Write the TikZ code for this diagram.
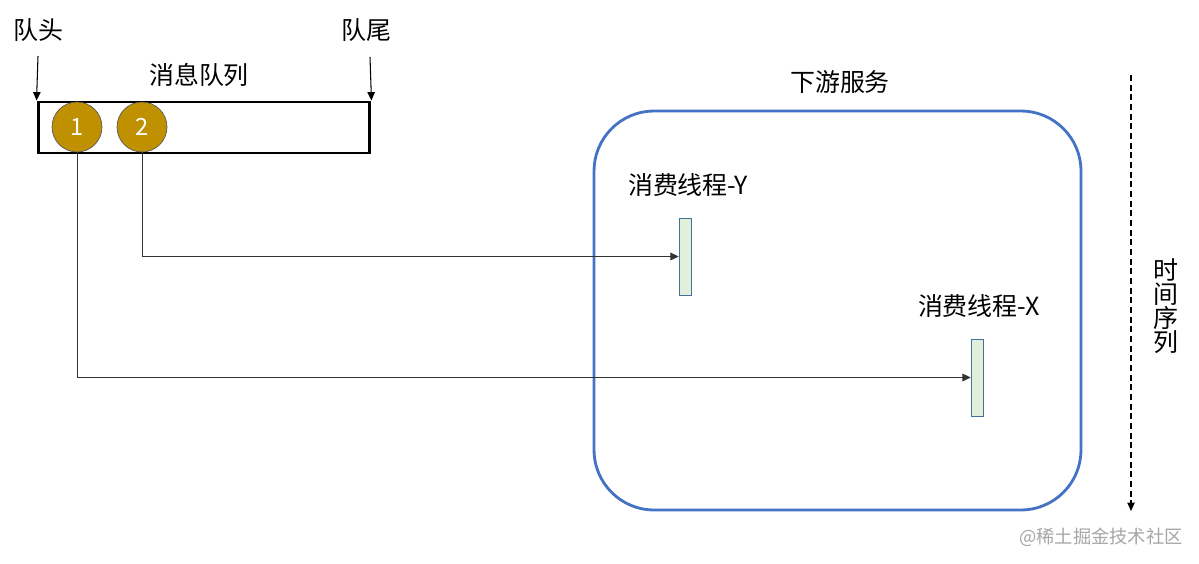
\documentclass[tikz,border=0pt]{standalone}
\usepackage{fontspec}
\setmainfont{Noto Sans CJK SC}
\usetikzlibrary{arrows.meta}
\definecolor{gold}{HTML}{BF9000}
\definecolor{svcblue}{HTML}{4472C4}
\definecolor{thrfill}{HTML}{E2EFDA}
\definecolor{thrline}{HTML}{41719C}
\tikzset{
  lbl/.style={font=\fontsize{14.2}{16}\selectfont, inner sep=0pt},
  msg/.style={circle, fill=gold, draw=gray!70!black, line width=0.4pt, minimum size=10mm, inner sep=0pt, text=white, font=\fontsize{13.5}{15}\selectfont},
  thr/.style={rectangle, fill=thrfill, draw=thrline, line width=0.5pt, minimum width=2.4mm, minimum height=15.4mm, inner sep=0pt},
  conn/.style={line width=0.55pt, draw=black!80, -{Triangle[length=4.6pt,width=4.4pt]}},
  tip/.style={-{Triangle[length=4.8pt,width=4.2pt]}},
}
\begin{document}
\begin{tikzpicture}[x=0.02cm,y=-0.02cm]
\useasboundingbox[fill=white] (0,0) rectangle (1199,564);
% queue
\node[lbl] (head) at (38,30) {队头};
\node[lbl] (tail) at (366,30) {队尾};
\node[lbl] (qlabel) at (199,75) {消息队列};
\node[draw=black, line width=1.7pt, minimum width=66.4mm, minimum height=10.2mm, inner sep=0pt] (queue) at (204,127.5) {};
\coordinate (headS) at (38,56);
\coordinate (tailS) at (370,57);
\draw[line width=0.6pt, tip] (headS) -- (queue.north west);
\draw[line width=0.6pt, tip] (tailS) -- (queue.north east);
\node[msg] (c1) at (77,127) {1};
\node[msg] (c2) at (142,127) {2};
% service
\node[lbl] (svclabel) at (840,82) {下游服务};
\node[draw=svcblue, line width=1.6pt, rounded corners=12mm, minimum width=97.4mm, minimum height=79.8mm, inner sep=0pt] (svc) at (837.5,310.5) {};
\node[lbl] (ylabel) at (688,185) {消费线程-Y};
\node[lbl] (xlabel) at (979,306) {消费线程-X};
\node[thr] (ty) at (685,256.5) {};
\node[thr] (tx) at (977,377.5) {};
% connectors
\draw[conn] (c2.south) |- (ty.west);
\draw[conn] (c1.south) |- (tx.west);
% time axis
\coordinate (tTop) at (1131,75);
\coordinate (tBot) at (1131,511);
\draw[line width=0.6pt, dashed, dash pattern=on 3.5pt off 2pt, tip] (tTop) -- (tBot);
\node[lbl, align=center, font=\fontsize{14.2}{13.6}\selectfont] (tlabel) at (1166,306) {时\\间\\序\\列};
% watermark
\node[lbl, text=black!35, font=\fontsize{10.4}{12}\selectfont] (wm) at (1101,537) {@稀土掘金技术社区};
\end{tikzpicture}
\end{document}
